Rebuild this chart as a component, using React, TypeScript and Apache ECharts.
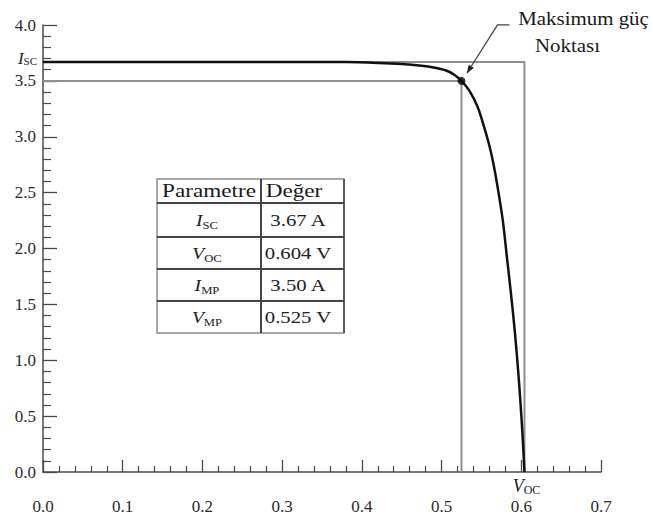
import React, { useEffect, useRef } from "react";
import * as echarts from "echarts";

// Cell parameters (from the table)
const ISC = 3.67;
const VOC = 0.604;
const IMP = 3.5;
const VMP = 0.525;

// I-V curve
const voltage = [0, 0.1, 0.2, 0.3, 0.38, 0.42, 0.45, 0.475, 0.49, 0.505, 0.515, 0.525, 0.535, 0.545, 0.552, 0.56, 0.565, 0.571, 0.577, 0.582, 0.587, 0.592, 0.597, 0.601, 0.604];
const current = [3.67, 3.67, 3.67, 3.67, 3.668, 3.66, 3.65, 3.635, 3.62, 3.595, 3.56, 3.5, 3.41, 3.27, 3.12, 2.92, 2.76, 2.52, 2.24, 1.92, 1.6, 1.25, 0.82, 0.4, 0];

// Table contents
const tableHeader = ["Parametre", "Değer"];
const tableSymbols = [["I", "SC"], ["V", "OC"], ["I", "MP"], ["V", "MP"]];
const tableValues = ["3.67 A", "0.604 V", "3.50 A", "0.525 V"];

const annotationLines = ["Maksimum güç", "Noktası"];

const SERIF = "Liberation Serif";

export default function App() {
  const ref = useRef<HTMLDivElement>(null);
  useEffect(() => {
    if (!ref.current) return;
    const chart = echarts.init(ref.current, null, { renderer: "svg" });
    const axisColor = "#4a4a4a";
    const curve = voltage.map((v, i) => [v, current[i]]);
    const option: any = {
      animation: false,
      backgroundColor: "#fff",
      grid: { left: 43, right: 52, top: 25, bottom: 50 },
      xAxis: {
        type: "value",
        min: 0,
        max: 0.7,
        interval: 0.1,
        axisLine: { lineStyle: { color: axisColor, width: 1.5 } },
        axisTick: { inside: true, length: 12, lineStyle: { color: axisColor, width: 1.3 } },
        minorTick: { show: true, splitNumber: 5, length: 6, lineStyle: { color: axisColor, width: 1.2 } },
        splitLine: { show: false },
        axisLabel: {
          margin: 26,
          fontSize: 17,
          fontFamily: SERIF,
          color: "#2a2a2a",
          formatter: (v: number) => v.toFixed(1),
        },
      },
      yAxis: {
        type: "value",
        min: 0,
        max: 4,
        interval: 0.5,
        axisLine: { show: true, lineStyle: { color: axisColor, width: 1.5 } },
        axisTick: { show: true, inside: true, length: 14, lineStyle: { color: axisColor, width: 1.3 } },
        minorTick: { show: true, splitNumber: 5, length: 8, lineStyle: { color: axisColor, width: 1.2 } },
        splitLine: { show: false },
        axisLabel: {
          margin: 7,
          fontSize: 17,
          fontFamily: SERIF,
          color: "#2a2a2a",
          formatter: (v: number) => v.toFixed(1),
        },
      },
      series: [
        {
          type: "line",
          data: [[0, ISC], [VOC, ISC], [VOC, 0]],
          symbol: "none",
          lineStyle: { color: "#8f8f8f", width: 2 },
          z: 1,
        },
        {
          type: "line",
          data: [[0, IMP], [VMP, IMP], [VMP, 0]],
          symbol: "none",
          lineStyle: { color: "#8f8f8f", width: 2 },
          z: 1,
        },
        {
          type: "line",
          data: curve,
          symbol: "none",
          smooth: 0.3,
          lineStyle: { color: "#111", width: 2.5 },
          z: 3,
        },
        {
          type: "scatter",
          data: [[VMP, IMP]],
          symbolSize: 8,
          itemStyle: { color: "#000" },
          z: 4,
        },
      ],
    };
    chart.setOption(option);

    const px = (v: number, i: number) => chart.convertToPixel({ gridIndex: 0 }, [v, i]) as number[];
    const [x0, yIsc] = px(0, ISC);
    const [xVoc, y0] = px(VOC, 0);
    const [mx, my] = px(VMP, IMP);

    const subRich = (size: number, lh: number) => ({
      i: { fontSize: size, fontStyle: "italic", fontFamily: SERIF, fill: "#222", lineHeight: lh, verticalAlign: "middle" },
      s: { fontSize: Math.round(size * 0.65), fontFamily: SERIF, fill: "#222", lineHeight: lh, verticalAlign: "bottom" },
    });

    const graphic: any[] = [];
    // Isc label on y axis
    graphic.push({
      type: "text",
      x: x0 - 6,
      y: yIsc - 3,
      z: 10,
      style: { text: "{i|I}{s|SC}", rich: subRich(17, 16), textAlign: "right", textVerticalAlign: "middle" },
    });
    // Voc label on x axis
    graphic.push({
      type: "text",
      x: xVoc + 2,
      y: y0 + 14,
      z: 10,
      style: { text: "{i|V}{s|OC}", rich: subRich(18, 20), textAlign: "center", textVerticalAlign: "middle" },
    });

    // Table
    const T = { left: 157, right: 344, mid: 261, top: 179, rows: [203, 237, 269, 301], bottom: 333 };
    graphic.push({
      type: "rect",
      z: 5,
      shape: { x: T.left, y: T.top, width: T.right - T.left, height: T.bottom - T.top },
      style: { fill: "#fff", stroke: "#8a8a8a", lineWidth: 1.5 },
    });
    graphic.push({
      type: "line",
      z: 6,
      shape: { x1: T.mid, y1: T.top, x2: T.mid, y2: T.bottom },
      style: { stroke: "#333", lineWidth: 1.8 },
    });
    graphic.push({
      type: "line",
      z: 6,
      shape: { x1: T.right, y1: T.top, x2: T.right, y2: T.bottom },
      style: { stroke: "#555", lineWidth: 1.8 },
    });
    T.rows.forEach((ry) => {
      graphic.push({
        type: "line",
        z: 6,
        shape: { x1: T.left, y1: ry, x2: T.right, y2: ry },
        style: { stroke: "#444", lineWidth: 1.8 },
      });
    });
    const c1 = 209;
    const c2 = 297;
    graphic.push({
      type: "text",
      x: c1,
      y: 191,
      z: 7,
      scaleX: 1.22,
      style: { text: tableHeader[0], fontSize: 19, fontFamily: SERIF, fill: "#1a1a1a", textAlign: "center", textVerticalAlign: "middle" },
    });
    graphic.push({
      type: "text",
      x: c2 - 3,
      y: 191,
      z: 7,
      scaleX: 1.22,
      style: { text: tableHeader[1], fontSize: 19, fontFamily: SERIF, fill: "#1a1a1a", textAlign: "center", textVerticalAlign: "middle" },
    });
    const rowCenters = [220, 253, 285, 317];
    tableSymbols.forEach((sym, k) => {
      graphic.push({
        type: "text",
        x: c1 - 2,
        y: rowCenters[k],
        z: 7,
        scaleX: 1.15,
        style: { text: `{i|${sym[0]}}{s|${sym[1]}}`, rich: subRich(17, 22), textAlign: "center", textVerticalAlign: "middle" },
      });
      graphic.push({
        type: "text",
        x: c2 + 1,
        y: rowCenters[k],
        z: 7,
        scaleX: 1.22,
        style: { text: tableValues[k], fontSize: 17, fontFamily: SERIF, fill: "#222", textAlign: "center", textVerticalAlign: "middle" },
      });
    });

    // Annotation arrow to maximum power point
    const tip = [mx + 5, my - 7];
    const elbow = [mx + 36, my - 56];
    const start = [mx + 48, my - 56];
    const dx = tip[0] - elbow[0];
    const dy = tip[1] - elbow[1];
    const len = Math.sqrt(dx * dx + dy * dy);
    const ux = dx / len;
    const uy = dy / len;
    const bx = tip[0] - 9 * ux;
    const by = tip[1] - 9 * uy;
    graphic.push({
      type: "polyline",
      z: 8,
      shape: { points: [start, elbow, [bx, by]] },
      style: { stroke: "#444", lineWidth: 1.3, fill: null },
    });
    graphic.push({
      type: "polygon",
      z: 8,
      shape: { points: [tip, [bx - 3 * uy, by + 3 * ux], [bx + 3 * uy, by - 3 * ux]] },
      style: { fill: "#222" },
    });
    graphic.push({
      type: "text",
      x: mx + 122,
      y: my - 63,
      z: 8,
      scaleX: 1.1,
      style: { text: annotationLines[0], fontSize: 19, fontFamily: SERIF, fill: "#1a1a1a", textAlign: "center", textVerticalAlign: "middle" },
    });
    graphic.push({
      type: "text",
      x: mx + 106,
      y: my - 36,
      z: 8,
      scaleX: 1.1,
      style: { text: annotationLines[1], fontSize: 19, fontFamily: SERIF, fill: "#1a1a1a", textAlign: "center", textVerticalAlign: "middle" },
    });

    chart.setOption({ graphic });
    return () => chart.dispose();
  }, []);
  return <div ref={ref} style={{ position: "fixed", left: 0, top: 0, width: 653, height: 522, background: "#fff" }} />;
}
